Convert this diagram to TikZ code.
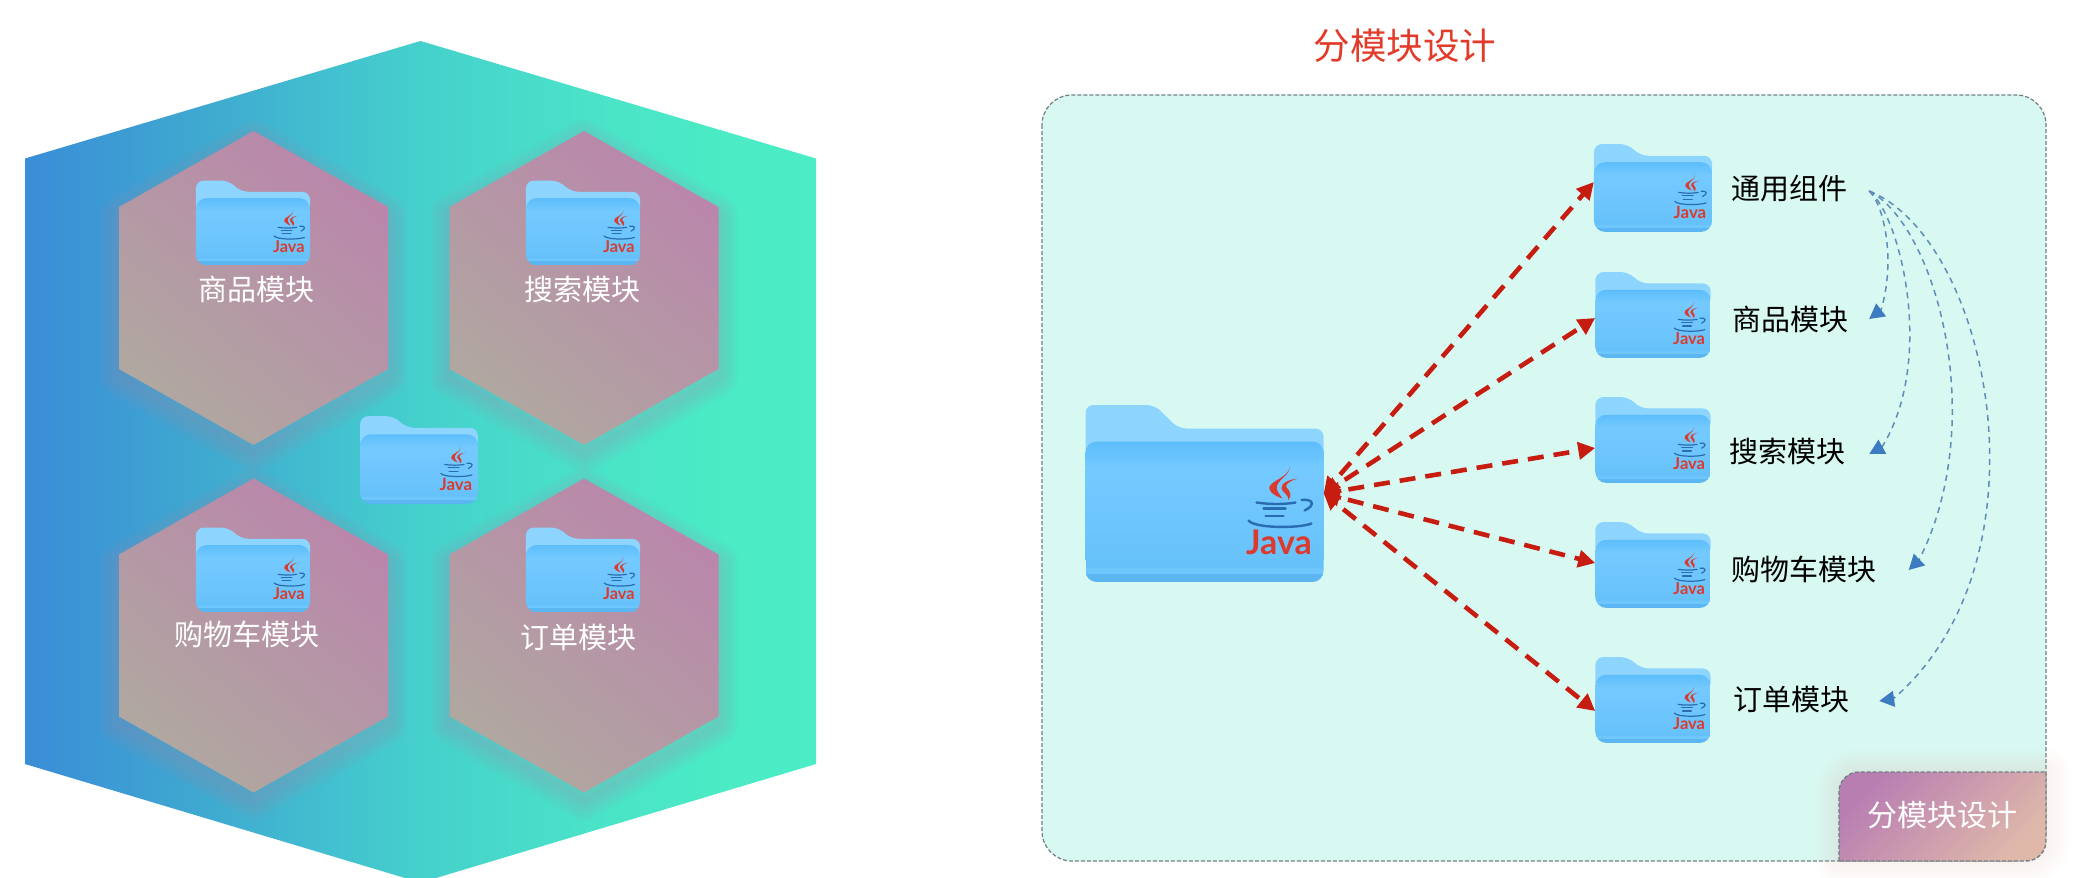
\documentclass[tikz,border=0pt]{standalone}
\usepackage{fontspec}
\setmainfont{Noto Sans CJK SC}
\newfontfamily\javafont{Lato}
\usetikzlibrary{
  arrows.meta,
  positioning
}
\definecolor{hexLeft}{HTML}{3A8DD8}
\definecolor{hexRight}{HTML}{4AEDC5}
\definecolor{cellPink}{HTML}{BA86AB}
\definecolor{cellTan}{HTML}{B0A8A0}
\definecolor{panelFill}{HTML}{D8F9F2}
\definecolor{panelEdge}{HTML}{6F7F84}
\definecolor{titleRed}{HTML}{E23B2A}
\definecolor{linkRed}{HTML}{C71C10}
\definecolor{tipBlue}{HTML}{3E7CC2}
\definecolor{curveBlue}{HTML}{5E8DB8}
\definecolor{javaRed}{HTML}{DB3A2E}
\definecolor{javaBlue}{HTML}{2A6CB2}
\definecolor{badgeStart}{HTML}{B87EB2}
\definecolor{badgeMid}{HTML}{D2A0AE}
\definecolor{badgeEnd}{HTML}{DFB8AA}
\definecolor{folderBack}{HTML}{8DD4FF}
\definecolor{folderBand}{HTML}{5DBDFA}
\definecolor{folderBody}{HTML}{74CAFF}
\definecolor{folderLow}{HTML}{68C2FA}
\definecolor{folderFoot}{HTML}{5BB6F1}
\pgfdeclarehorizontalshading{hexShade}{100bp}{
  color(0bp)=(hexLeft); color(25bp)=(hexLeft);
  rgb(36bp)=(.247,.659,.816); rgb(44bp)=(.259,.749,.816);
  rgb(50bp)=(.271,.816,.800); rgb(61bp)=(.290,.890,.784);
  rgb(68bp)=(.290,.918,.773); color(75bp)=(hexRight); color(100bp)=(hexRight)}
\tikzset{
  pics/folder/.style={code={
    \node[transform shape, minimum width=238pt, minimum height=177pt, inner sep=0pt] (box) at (0,0) {};
    \fill[folderBack, rounded corners=8pt] (-119,-20) -- (-119,-88.5) -- (-50,-88.5)
      -- (-26,-65) -- (119,-65) -- (119,-20) -- cycle;
    \begin{scope}
      \clip[rounded corners=11pt] (-119,-52) rectangle (119,88.5);
      \shade[top color=folderBand, bottom color=folderBody] (-119,-52) rectangle (119,-25);
      \shade[top color=folderBody, bottom color=folderLow] (-119,-25) rectangle (119,67);
      \fill[folderLow!85!folderFoot] (-119,67) rectangle (119,74);
      \fill[folderBody!50!folderLow] (-119,74) rectangle (119,80);
      \fill[folderFoot] (-119,80) rectangle (119,88.5);
    \end{scope}
    \fill[javaRed] (85.5,-27) .. controls (84,-15) and (62,-12) .. (65,-4)
      .. controls (67,1) and (73,3) .. (78,5) .. controls (72,-3) and (70,-6) .. (75,-12)
      .. controls (79,-17) and (85,-20) .. cycle;
    \fill[javaRed] (93,-15) .. controls (86,-14) and (76,-11) .. (77,-5)
      .. controls (78,-1) and (84,1) .. (84,6.5) .. controls (88,1) and (85,-3) .. (82,-6)
      .. controls (80,-9) and (86,-13) .. cycle;
    \draw[javaBlue, line width=#1, line cap=round] (52,9) .. controls (65,11) and (80,11) .. (91,9);
    \draw[javaBlue, line width=#1, line cap=round] (97,6.5) .. controls (109,5) and (111,12) .. (100,17);
    \draw[javaBlue, line width=#1, line cap=round] (59,15) -- (81,15);
    \draw[javaBlue, line width=#1, line cap=round] (61,22.5) -- (79,22.5);
    \draw[javaBlue, line width=#1, line cap=round] (44,27) .. controls (50,35) and (95,35) .. (107,30);
    \node[transform shape, text=javaRed, inner sep=0pt, font=\javafont\bfseries\fontsize{34}{34}\selectfont] (logo) at (74.5,49) {Java};
  }},
  pics/cell/.style={code={
    \foreach \w in {5,10,...,40} {
      \draw[cellPink, opacity=.035, line width=\w pt, line join=round, yshift=-8pt]
        (0,-157) -- (134.5,-81) -- (134.5,81) -- (0,157) -- (-134.5,81) -- (-134.5,-81) -- cycle;
    }
    \shade[top color=cellPink, bottom color=cellTan, shading angle=-40]
      (0,-157) -- (134.5,-81) -- (134.5,81) -- (0,157) -- (-134.5,81) -- (-134.5,-81) -- cycle;
  }}
}
\begin{document}
\begin{tikzpicture}[
  x=1pt, y=-1pt,
  cellText/.style = {inner sep=0pt, text=white, font=\fontsize{29}{29}\selectfont},
  itemText/.style = {inner sep=0pt, text=black, font=\fontsize{29}{29}\selectfont},
  redLink/.style = {linkRed, line width=4.6pt, dash pattern=on 16pt off 10pt, dash phase=16pt,
    {Triangle[length=16pt,width=17pt]}-{Triangle[length=17pt,width=17pt]}},
  blueLink/.style = {curveBlue, line width=1.5pt, dash pattern=on 6pt off 5pt,
    -{Triangle[length=15pt,width=16pt,color=tipBlue]}}]

  \useasboundingbox (0,0) rectangle (2080,878);

  \shade[shading=hexShade]
    (420.5,41) -- (816,158.5) -- (816,764) -- (436,878) -- (405,878) -- (25,764) -- (25,158.5) -- cycle;

  \pic at (253.5,288) {cell};
  \pic at (584,288) {cell};
  \pic at (253.5,635.5) {cell};
  \pic at (584,635.5) {cell};

  \pic[scale=.48] (goods)  at (253,223) {folder=1.2pt};
  \pic[scale=.48] (search) at (583,223) {folder=1.2pt};
  \pic[scale=.48] (cart)   at (253,570) {folder=1.2pt};
  \pic[scale=.48] (order)  at (583,570) {folder=1.2pt};
  \pic[scale=.495] (parent) at (419,460) {folder=1.2pt};

  \node[cellText] (goodsText)  at (256,289) {商品模块};
  \node[cellText] (searchText) at (582,289) {搜索模块};
  \node[cellText] (cartText)   at (247,634) {购物车模块};
  \node[cellText] (orderText)  at (578,638) {订单模块};

  \node[inner sep=0pt, text=titleRed, font=\fontsize{36.5}{36.5}\selectfont] (title) at (1405,46) {分模块设计};

  \draw[panelEdge, fill=panelFill, line width=1.2pt, dash pattern=on 4pt off 2pt, rounded corners=30pt]
    (1042,95) rectangle (2046,861);

  \foreach \w in {6,12,...,48} {
    \draw[badgeEnd, opacity=.025, line width=\w pt, line join=round]
      (1839,861) [rounded corners=20pt] -- (1839,772) [sharp corners] -- (2046,772)
      [rounded corners=20pt] -- (2046,861) [sharp corners] -- cycle;
  }
  \shade[top color=badgeStart, middle color=badgeMid, bottom color=badgeEnd, shading angle=45]
    (1839,861) [rounded corners=20pt] -- (1839,772) [sharp corners] -- (2046,772)
    [rounded corners=20pt] -- (2046,861) [sharp corners] -- cycle;
  \draw[panelEdge, line width=1.4pt, dash pattern=on 4pt off 2pt]
    (1839,861) [rounded corners=20pt] -- (1839,772) [sharp corners] -- (2046,772)
    [rounded corners=20pt] -- (2046,861) [sharp corners] -- cycle;
  \node[cellText, font=\fontsize{30}{30}\selectfont] (badgeText) at (1942,815) {分模块设计};

  \pic (core) at (1204.5,493.5) {folder=2.4pt};
  \pic[scale=.496] (boxA) at (1653,188) {folder=1.2pt};
  \pic[scale=.485] (boxB) at (1653,315) {folder=1.2pt};
  \pic[scale=.485] (boxC) at (1653,440) {folder=1.2pt};
  \pic[scale=.485] (boxD) at (1653,565) {folder=1.2pt};
  \pic[scale=.485] (boxE) at (1653,700) {folder=1.2pt};

  \node[itemText] (common) at (1789,189) {通用组件};
  \node[itemText] (itemB)  at (1790,319) {商品模块};
  \node[itemText] (itemC)  at (1787,451) {搜索模块};
  \node[itemText] (itemD)  at (1804,569) {购物车模块};
  \node[itemText] (itemE)  at (1791,700) {订单模块};

  \draw[redLink] (corebox.east) -- ([yshift=6pt]boxAbox.west);
  \draw[redLink] (corebox.east) -- ([yshift=-3pt]boxBbox.west);
  \draw[redLink] (corebox.east) -- ([yshift=-8pt]boxCbox.west);
  \draw[redLink] (corebox.east) -- ([yshift=2pt]boxDbox.west);
  \draw[redLink] (corebox.east) -- ([yshift=-11pt]boxEbox.west);

  \coordinate (fan) at ([xshift=22pt,yshift=-2pt]common.east);
  \draw[blueLink] (fan) .. controls (1884,205) and (1896,260) .. (1881,310) -- ([xshift=21pt]itemB.east);
  \draw[blueLink] (fan) .. controls (1900,215) and (1936,360) .. (1882,447) -- ([xshift=24pt,yshift=-3pt]itemC.east);
  \draw[blueLink] (fan) .. controls (1935,225) and (1990,420) .. (1919,560) -- ([xshift=32pt,yshift=-1pt]itemD.east);
  \draw[blueLink] (fan) .. controls (1990,240) and (2055,560) .. (1893,699) -- ([xshift=30pt,yshift=-1pt]itemE.east);
\end{tikzpicture}
\end{document}
